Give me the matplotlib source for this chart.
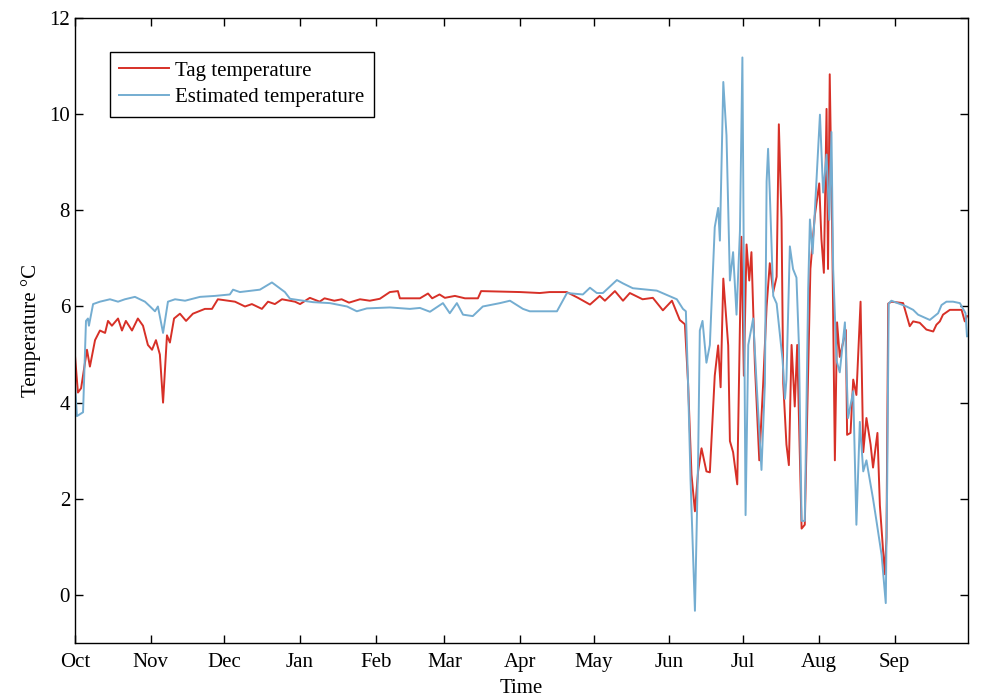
import pandas as pd
import matplotlib
matplotlib.use('Agg')
import matplotlib.pyplot as plt

plt.rcParams['font.family'] = ['Liberation Serif', 'DejaVu Serif']

start = pd.Timestamp('2012-10-01')

# Tag temperature: days since 1 Oct, value in degC
tag_days = [0, 1.2, 2.5, 4.9, 6.1, 8.2, 10.2, 12.3, 13.5, 15.1, 17.6, 19.2, 20.8, 23.3, 25.7,
            27.8, 29.8, 31.5, 33.1, 34.7, 36.0, 37.6, 38.8, 40.5, 42.9, 45.4, 48.2, 53.1, 56,
            58.4, 65.4, 69.5, 72.3, 76.4, 78.9, 81.7, 84.6, 89.9, 92, 96, 100, 102, 106, 109,
            112, 116.5, 120.5, 124.6, 128.7, 132, 132.8, 141, 144.3, 146, 149, 151.2, 155.3,
            159.4, 164.7, 166, 182, 190, 194, 201, 205.6, 210.5, 214.5, 216.6, 220.7, 224,
            226.8, 232, 236.2, 240.3, 244, 247.2, 249.3,
            250.6, 252, 253.4, 254.7, 256.1, 258.1, 259.5, 261.5, 262.9, 263.9, 265, 267,
            267.7, 269, 270.7, 272.4, 273.4, 274.5, 275.6, 276.5, 277.9, 279.7, 281.3, 282.7,
            284, 285.4, 286.8, 287.7, 288.8, 289.5, 290.8, 291.8, 292.9, 294.2, 295.2, 297,
            298.3, 299.7, 300.6, 302.4, 304.2, 305.1, 306.1, 307.2, 307.8, 308.5, 309.5,
            310.6, 311.5, 312.6, 315.1, 315.6, 317, 318.1, 319.4, 321.1, 322.2, 323.5, 325.2,
            326.2, 328, 329, 331, 331.7, 332.4, 333.7, 338.5, 341.2, 342.6, 345.3, 348, 350.8,
            352.1, 353.5, 354.8, 357.6, 362.4, 363.7, 364.6]
tag_temp = [4.98, 4.21, 4.3, 5.1, 4.75, 5.3, 5.5, 5.45, 5.7, 5.6, 5.75, 5.5, 5.7, 5.5, 5.75,
            5.6, 5.2, 5.1, 5.3, 5.0, 4.0, 5.4, 5.25, 5.75, 5.85, 5.7, 5.85, 5.95, 5.95,
            6.15, 6.1, 6.0, 6.05, 5.95, 6.1, 6.05, 6.15, 6.1, 6.05, 6.18, 6.1, 6.17, 6.12, 6.15,
            6.08, 6.15, 6.12, 6.16, 6.3, 6.32, 6.17, 6.17, 6.27, 6.17, 6.25, 6.18, 6.22,
            6.17, 6.17, 6.32, 6.3, 6.28, 6.3, 6.3, 6.18, 6.04, 6.22, 6.12, 6.32, 6.12,
            6.28, 6.15, 6.18, 5.92, 6.12, 5.72, 5.63,
            4.4, 2.5, 1.74, 2.57, 3.05, 2.57, 2.55, 4.56, 5.19, 4.32, 6.58, 5.19,
            3.2, 2.97, 2.3, 7.45, 4.56, 7.29, 6.54, 7.13, 4.8, 2.8, 4.4, 6.0,
            6.9, 6.3, 6.62, 9.79, 7.81, 4.4, 3.13, 2.7, 5.2, 3.92, 5.2, 1.38,
            1.46, 4.71, 6.78, 7.89, 8.56, 7.41, 6.7, 10.11, 6.78, 10.83, 7.57,
            2.8, 5.67, 4.95, 5.51, 3.33, 3.37, 4.48, 4.16, 6.1, 2.97, 3.68, 3.13,
            2.65, 3.37, 1.86, 0.43, 1.2, 6.06, 6.1, 6.07, 5.59, 5.69, 5.66, 5.52, 5.48,
            5.62, 5.69, 5.83, 5.93, 5.93, 5.69, 5.8]

# Estimated temperature
est_days = [0, 0.8, 3.3, 4.5, 5.3, 5.7, 7.4, 10.2, 14.3, 17.6, 20.4, 24.5, 28.6, 30.7, 32.7,
            33.9, 36, 38, 40.9, 45, 51.1, 57.2, 63.3, 64.6, 67.4, 75.6, 80.5, 85.8, 87.9,
            97.3, 104.2, 111.2, 115.2, 119.3, 128.7, 136.9, 141, 145.1, 150.4, 153.2, 156.1,
            158.6, 162.6, 166.7, 173.7, 177.8, 183.1, 185.9, 197, 201.1, 207.6, 210.5, 213.3,
            215.8, 221.5, 224, 228, 237.8, 246, 248.5,
            249.7, 250.6, 251.6, 253.4, 254.7, 255.4, 256.5, 258.1, 259.5, 261.5, 262.9,
            263.6, 265, 266.3, 267.7, 269, 270.4, 271.8, 272.8, 274.1, 275.2, 277.2, 278.6,
            280.6, 282, 282.7, 283.3, 284, 285.4, 286.8, 289.2, 290.2, 290.8, 292.2, 293.5,
            294.9, 295.9, 297, 298.3, 299.7, 300.4, 301.5, 304.5, 305.8, 307.2, 308.3, 309.2,
            309.9, 311.3, 312.6, 314.7, 316, 318.1, 319.4, 320.8, 322.2, 323.5, 326.2, 327.6,
            329.7, 331.4, 332, 332.6, 333.7, 339.9, 342.6, 344.6, 349.4, 352.8, 354.2, 356.2,
            358.9, 361.7, 364.0, 364.6]
est_temp = [4.4, 3.72, 3.8, 5.7, 5.75, 5.6, 6.05, 6.1, 6.15, 6.1, 6.15, 6.2, 6.1, 6.0, 5.9,
            6.0, 5.45, 6.1, 6.15, 6.12, 6.2, 6.22, 6.25, 6.35, 6.3, 6.35, 6.5, 6.3, 6.16,
            6.09, 6.07, 6.0, 5.9, 5.96, 5.98, 5.95, 5.97, 5.89, 6.07, 5.86, 6.07,
            5.83, 5.8, 6.0, 6.07, 6.12, 5.95, 5.9, 5.9, 6.28, 6.25, 6.39, 6.28,
            6.28, 6.55, 6.48, 6.38, 6.33, 6.15, 5.95,
            5.9, 4.4, 2.4, -0.33, 2.8, 5.5, 5.7, 4.83, 5.2, 7.65, 8.05,
            7.37, 10.67, 9.56, 6.54, 7.13, 5.83, 7.57, 11.18, 1.66, 5.2, 5.75, 4.4,
            2.6, 4.4, 8.6, 9.28, 8.37, 6.22, 6.06, 4.9, 4.08, 4.48, 7.25, 6.78,
            6.6, 5.2, 1.54, 1.54, 6.38, 7.81, 7.1, 9.99, 8.37, 9.16, 7.8, 9.63,
            6.78, 4.87, 4.63, 5.67, 3.68, 4.24, 1.46, 3.6, 2.57, 2.8, 2.0, 1.54,
            0.83, -0.17, 2.4, 6.06, 6.12, 6.0, 5.93, 5.83, 5.72, 5.86, 6.03, 6.1,
            6.1, 6.07, 5.86, 5.38]

month_labels = ['Oct', 'Nov', 'Dec', 'Jan', 'Feb', 'Mar', 'Apr', 'May', 'Jun', 'Jul', 'Aug', 'Sep']

tag_dates = start + pd.to_timedelta(tag_days, unit='D')
est_dates = start + pd.to_timedelta(est_days, unit='D')

fig = plt.figure(figsize=(9.84, 6.99), dpi=100)
ax = fig.add_axes([0.0762, 0.0801, 0.9075, 0.8941])

ax.plot(tag_dates, tag_temp, color='#D73027', lw=1.4, label='Tag temperature')
ax.plot(est_dates, est_temp, color='#74ADD1', lw=1.4, label='Estimated temperature')

month_starts = pd.date_range(start, periods=12, freq='MS')
ax.set_xticks(month_starts)
ax.set_xticklabels(month_labels)
ax.set_xlim(start, start + pd.Timedelta(days=365))
ax.set_ylim(-1, 12)
ax.set_yticks(range(0, 13, 2))

ax.tick_params(direction='in', top=True, right=True, length=6, width=1, labelsize=15)
ax.tick_params(axis='x', pad=7)
for s in ax.spines.values():
    s.set_linewidth(1.0)

ax.set_xlabel('Time', fontsize=15, labelpad=5)
ax.set_ylabel('Temperature °C', fontsize=15, labelpad=6)

leg = ax.legend(loc='upper left', bbox_to_anchor=(0.039, 0.946), fontsize=15,
                fancybox=False, framealpha=1, edgecolor='black', borderpad=0.45,
                handlelength=2.4, handletextpad=0.3, labelspacing=0.33, borderaxespad=0)
leg.get_frame().set_linewidth(1.0)

fig.savefig('out.png', dpi=100)
